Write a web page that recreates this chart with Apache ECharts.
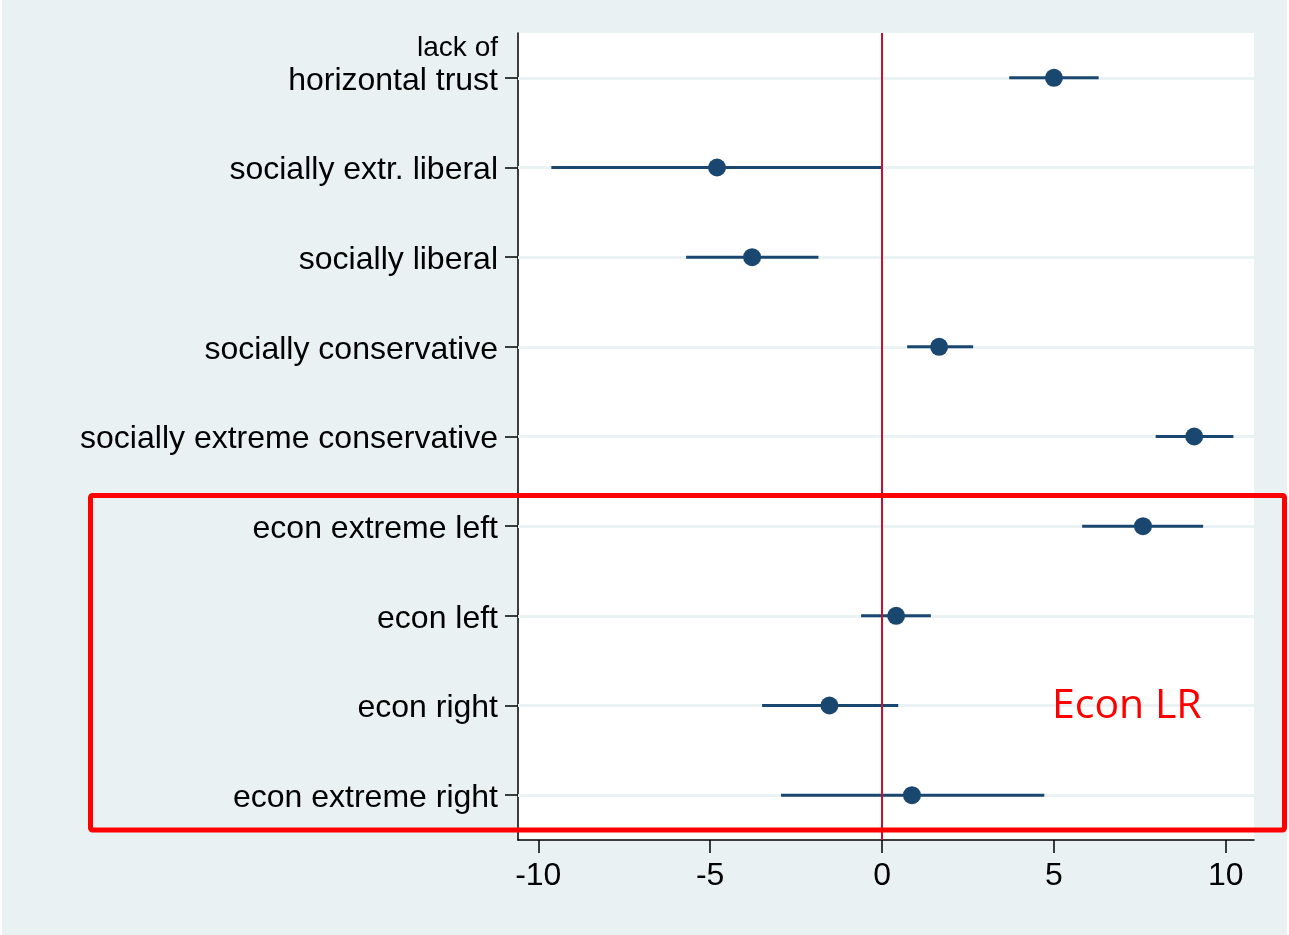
<!DOCTYPE html>
<html>
<head>
<meta charset="utf-8">
<script src="https://cdn.jsdelivr.net/npm/echarts@6/dist/echarts.min.js"></script>
<style>
html,body{margin:0;padding:0;background:#ffffff;}
#chart{position:absolute;left:2px;top:0;width:1285px;height:935px;}
</style>
</head>
<body>
<div id="chart"></div>
<script>
// ---- data ----
const categories = [
  'lack of\nhorizontal trust',
  'socially extr. liberal',
  'socially liberal',
  'socially conservative',
  'socially extreme conservative',
  'econ extreme left',
  'econ left',
  'econ right',
  'econ extreme right'
];
const estimates = [5.00, -4.80, -3.78, 1.66, 9.08, 7.59, 0.41, -1.53, 0.87];
const ciLower   = [3.70, -9.62, -5.70, 0.73, 7.96, 5.82, -0.61, -3.49, -2.94];
const ciUpper   = [6.30, 0.00, -1.85, 2.65, 10.22, 9.34, 1.42, 0.47, 4.72];
const xTicks = [-10, -5, 0, 5, 10];
const refLine = 0;
const annotationText = 'Econ LR';

// ---- chart ----
const navy = '#1A476F';
const chart = echarts.init(document.getElementById('chart'));
const rowPos = categories.map((c, i) => i + 1);   // category positions 1..9
const ciData = categories.map((c, i) => [ciLower[i], ciUpper[i], rowPos[i]]);
const ptData = categories.map((c, i) => [estimates[i], rowPos[i]]);

chart.setOption({
  backgroundColor: '#EAF1F3',
  animation: false,
  grid: {
    left: 516, right: 33, top: 33, bottom: 95,
    show: true, backgroundColor: '#ffffff', borderWidth: 0
  },
  xAxis: {
    type: 'value',
    min: -10.59, max: 10.82,
    axisLine: { show: true, onZero: false, lineStyle: { color: '#000', width: 1.5 } },
    axisTick: { show: true, length: 13, customValues: xTicks, lineStyle: { color: '#000', width: 1.5 } },
    axisLabel: { customValues: xTicks, fontSize: 32, fontFamily: 'Liberation Sans', color: '#000', margin: 20 },
    splitLine: { show: false }
  },
  yAxis: {
    type: 'value',
    min: 0.5, max: 9.5,
    inverse: true,
    axisLine: { show: true, onZero: false, lineStyle: { color: '#000', width: 1.5 } },
    axisTick: { show: true, length: 13, customValues: rowPos, lineStyle: { color: '#000', width: 1.5 } },
    splitLine: { show: false },
    axisLabel: {
      customValues: rowPos,
      margin: 20,
      color: '#000',
      fontFamily: 'Liberation Sans',
      fontSize: 32,
      formatter: function (v) {
        const name = categories[Math.round(v) - 1] || '';
        if (name.indexOf('\n') >= 0) {
          const parts = name.split('\n');
          return '{s|' + parts[0] + '}\n{b|' + parts[1] + '}\n{s| }';
        }
        return '{b|' + name + '}';
      },
      rich: {
        b: { fontSize: 32, lineHeight: 32, fontFamily: 'Liberation Sans', color: '#000', padding: [6, 0, 0, 0] },
        s: { fontSize: 28, lineHeight: 27, fontFamily: 'Liberation Sans', color: '#000' }
      }
    }
  },
  series: [
    {
      type: 'custom',
      name: 'ci',
      z: 2,
      data: ciData,
      encode: { x: [0, 1], y: 2 },
      renderItem: function (params, api) {
        const y = api.value(2);
        const p1 = api.coord([api.value(0), y]);
        const p2 = api.coord([api.value(1), y]);
        return {
          type: 'line',
          shape: { x1: p1[0], y1: p1[1], x2: p2[0], y2: p2[1] },
          style: { stroke: navy, lineWidth: 3 }
        };
      },
      markLine: {
        silent: true,
        z: 1,
        symbol: ['none', 'none'],
        label: { show: false },
        lineStyle: { color: '#EAF2F3', width: 3, type: 'solid' },
        data: rowPos.map(p => ({ yAxis: p }))
      }
    },
    {
      type: 'scatter',
      name: 'est',
      z: 4,
      data: ptData,
      symbol: 'circle',
      symbolSize: 18,
      itemStyle: { color: navy, opacity: 1 },
      markLine: {
        silent: true,
        z: 3,
        symbol: ['none', 'none'],
        label: { show: false },
        lineStyle: { color: '#C8102E', width: 2, type: 'solid' },
        data: [{ xAxis: refLine }]
      }
    }
  ],
  graphic: [
    {
      type: 'rect',
      z: 100,
      shape: { x: 88.5, y: 495.5, width: 1194, height: 334.5, r: 2 },
      style: { fill: 'none', stroke: '#FF0000', lineWidth: 5 }
    },
    {
      type: 'text',
      z: 100,
      x: 1050,
      y: 706,
      style: {
        text: annotationText,
        fill: '#FF0000',
        font: '41px "Open Sans"',
        verticalAlign: 'middle',
        align: 'left'
      }
    }
  ]
});
</script>
</body>
</html>
